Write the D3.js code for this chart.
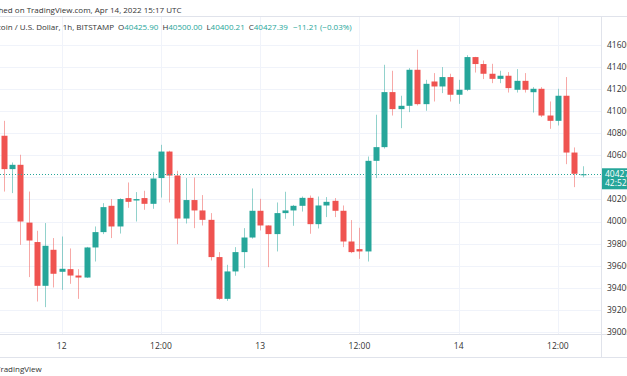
<!DOCTYPE html>
<html>
<head>
<meta charset="utf-8">
<script src="https://cdn.jsdelivr.net/npm/d3@7"></script>
<style>
  body { margin: 0; background: #fff; }
  svg { display: block; font-family: "Open Sans", sans-serif; }
</style>
</head>
<body>
<div id="chart"></div>
<script>
// BTC/USD 1h candles, Apr 11 17:00 UTC -> Apr 14 15:00 UTC
const firstCandle = Date.UTC(2022, 3, 11, 17);
const opens = [40776, 40474, 40513, 39990, 39814, 39418, 39744, 39545, 39569, 39511,
  39493, 39765, 39904, 40142, 39955, 40212, 40190, 40212, 40160, 40393,
  40633, 40416, 40027, 40194, 40100, 40015, 39678, 39300, 39548, 39723,
  39855, 40097, 39964, 39886, 40076, 40100, 40142, 40214, 39976, 40145,
  40187, 40097, 39819, 39750, 39729, 40549, 40673, 41171, 41017, 41047,
  41373, 41062, 41267, 41222, 41307, 41147, 41192, 41488, 41425, 41337,
  41291, 41319, 41192, 41273, 41170, 41201, 40959, 40911, 41138, 40624, 40425.9];
const highs = [40911, 40534, 40604, 40271, 39916, 39986, 39850, 39864, 39756, 39569,
  39770, 39955, 40166, 40203, 40210, 40353, 40266, 40278, 40447, 40694,
  40640, 40459, 40393, 40398, 40239, 40076, 39723, 39608, 39768, 39940,
  40299, 40205, 39966, 40172, 40269, 40150, 40226, 40235, 40226, 40221,
  40212, 40145, 40013, 39943, 40588, 40966, 41418, 41364, 41138, 41388,
  41554, 41282, 41343, 41397, 41337, 41282, 41505, 41490, 41457, 41427,
  41364, 41352, 41379, 41343, 41216, 41216, 41086, 41201, 41307, 40670, 40500];
const lows = [40271, 40257, 39789, 39497, 39276, 39225, 39403, 39382, 39436, 39300,
  39490, 39638, 39886, 39850, 39891, 40124, 40000, 40106, 40115, 40217,
  40172, 39795, 39982, 39940, 39964, 39647, 39291, 39282, 39509, 39578,
  39845, 39919, 39587, 39729, 40024, 39961, 40090, 39889, 39937, 40040,
  40040, 39768, 39714, 39662, 39638, 40393, 40660, 40959, 40845, 40990,
  41050, 41002, 41086, 41162, 41086, 41065, 41180, 41348, 41289, 41252,
  41252, 41167, 41167, 41167, 40986, 40945, 40839, 40869, 40519, 40311, 40400.21];
const closes = [40474, 40513, 40000, 39828, 39418, 39780, 39527, 39572, 39511, 39493,
  39765, 39904, 40130, 39955, 40203, 40178, 40203, 40160, 40389, 40633,
  40416, 40027, 40194, 40100, 40015, 39678, 39300, 39548, 39723, 39855,
  40097, 39964, 39886, 40076, 40100, 40142, 40214, 39976, 40145, 40178,
  40097, 39819, 39723, 39729, 40549, 40673, 41171, 41017, 41047, 41373,
  41062, 41246, 41222, 41307, 41147, 41192, 41488, 41425, 41337, 41291,
  41319, 41207, 41273, 41192, 41201, 40959, 40911, 41138, 40624, 40432, 40427.39];
const priceTicks = d3.range(39000, 41601, 200);
const lastPrice = 40427.39;

const up = "#26a69a", down = "#ef5350";
const W = 627, H = 376;
const paneRight = 601, paneTop = 17, paneBottom = 334;
const fs = 8;

const candles = opens.map((o, i) => ({
  t: new Date(firstCandle + i * 3600e3),
  o: o, h: highs[i], l: lows[i], c: closes[i]
}));

const svg = d3.select("#chart").append("svg").attr("width", W).attr("height", H);
svg.append("rect").attr("width", W).attr("height", H).attr("fill", "#fff");

const x = d3.scaleUtc()
  .domain([new Date(Date.UTC(2022, 3, 12, 0)), new Date(Date.UTC(2022, 3, 14, 12))])
  .range([61.7, 557.9]);
const y = d3.scaleLinear().domain([39000, 41600]).range([332, 44.7]);

svg.append("clipPath").attr("id", "pane")
  .append("rect").attr("x", 0).attr("y", paneTop).attr("width", paneRight).attr("height", paneBottom - paneTop);

// grid
const grid = svg.append("g").attr("clip-path", "url(#pane)");
grid.selectAll(".hg").data(priceTicks).enter().append("line")
  .attr("x1", 0).attr("x2", paneRight)
  .attr("y1", d => Math.round(y(d)) + 0.5).attr("y2", d => Math.round(y(d)) + 0.5)
  .attr("stroke", "#f0f3fa");
const timeTicks = x.ticks(d3.utcHour.every(12));
grid.selectAll(".vg").data(timeTicks).enter().append("line")
  .attr("x1", d => Math.round(x(d)) + 0.5).attr("x2", d => Math.round(x(d)) + 0.5)
  .attr("y1", paneTop).attr("y2", paneBottom)
  .attr("stroke", "#f0f3fa");

// candles
const bw = 6;
const g = svg.append("g").attr("clip-path", "url(#pane)");
const cg = g.selectAll(".candle").data(candles).enter().append("g");
cg.append("line")
  .attr("x1", d => Math.round(x(d.t)) + 0.5).attr("x2", d => Math.round(x(d.t)) + 0.5)
  .attr("y1", d => y(d.h)).attr("y2", d => y(d.l))
  .attr("stroke", d => d.c >= d.o ? up : down)
  .attr("stroke-opacity", 0.5);
cg.append("rect")
  .attr("x", d => Math.round(x(d.t)) + 0.5 - bw / 2)
  .attr("width", bw)
  .attr("y", d => y(Math.max(d.o, d.c)))
  .attr("height", d => Math.max(1, Math.abs(y(d.o) - y(d.c))))
  .attr("fill", d => d.c >= d.o ? up : down);

// last price line
svg.append("line")
  .attr("x1", 0).attr("x2", paneRight)
  .attr("y1", Math.round(y(lastPrice)) + 0.5).attr("y2", Math.round(y(lastPrice)) + 0.5)
  .attr("stroke", up).attr("stroke-dasharray", "1,2");

// frame lines
svg.append("line").attr("x1", 0).attr("x2", W).attr("y1", paneTop - 0.5).attr("y2", paneTop - 0.5).attr("stroke", "#e0e3eb");
svg.append("line").attr("x1", paneRight + 0.5).attr("x2", paneRight + 0.5).attr("y1", paneTop).attr("y2", 357).attr("stroke", "#e0e3eb");
svg.append("line").attr("x1", 0).attr("x2", W).attr("y1", paneBottom + 0.5).attr("y2", paneBottom + 0.5).attr("stroke", "#e0e3eb");
svg.append("line").attr("x1", 0).attr("x2", W).attr("y1", 357.5).attr("y2", 357.5).attr("stroke", "#e0e3eb");

// price axis (the label behind the last-price tag is hidden)
const ly = y(lastPrice);
svg.selectAll(".pt").data(priceTicks.filter(d => Math.abs(y(d) - ly) > 12)).enter().append("text")
  .attr("x", 607).attr("y", d => y(d)).attr("dy", "0.35em")
  .attr("font-size", fs + 0.5).attr("fill", "#333")
  .text(d => d);

// last price tag
svg.append("rect").attr("x", paneRight + 1).attr("y", ly - 6).attr("width", W - paneRight).attr("height", 21).attr("fill", up);
svg.append("text").attr("x", 605).attr("y", ly - 0.5).attr("dy", "0.35em").attr("font-size", fs + 0.5).attr("fill", "#fff").text("40427.39");
svg.append("text").attr("x", 605).attr("y", ly + 9).attr("dy", "0.35em").attr("font-size", fs + 0.5).attr("fill", "#fff").text("42:52");

// time axis
svg.selectAll(".tt").data(timeTicks).enter().append("text")
  .attr("x", d => x(d)).attr("y", 346).attr("dy", "0.35em")
  .attr("text-anchor", "middle").attr("font-size", fs + 0.5).attr("fill", "#333")
  .text(d => d.getUTCHours() === 0 ? d3.utcFormat("%-d")(d) : d3.utcFormat("%H:%M")(d));

// header
svg.append("text").attr("x", -24).attr("y", 10).attr("dy", "0.35em")
  .attr("font-size", fs).attr("fill", "#333")
  .text("Published on TradingView.com, Apr 14, 2022 15:17 UTC");
const legend = svg.append("text").attr("x", -13).attr("y", 27).attr("dy", "0.35em").attr("font-size", fs).attr("fill", "#333");
legend.append("tspan").text("Bitcoin / U.S. Dollar, 1h, BITSTAMP");
legend.append("tspan").attr("dx", 4).text("O");
legend.append("tspan").attr("fill", up).text("40425.90");
legend.append("tspan").attr("dx", 4).text("H");
legend.append("tspan").attr("fill", up).text("40500.00");
legend.append("tspan").attr("dx", 4).text("L");
legend.append("tspan").attr("fill", up).text("40400.21");
legend.append("tspan").attr("dx", 4).text("C");
legend.append("tspan").attr("fill", up).text("40427.39");
legend.append("tspan").attr("dx", 5).attr("fill", up).text("\u221211.21 (\u22120.03%)");

// footer
svg.append("text").attr("x", -4).attr("y", 369).attr("dy", "0.35em").attr("font-size", fs).attr("fill", "#333").text("TradingView");
</script>
</body>
</html>
